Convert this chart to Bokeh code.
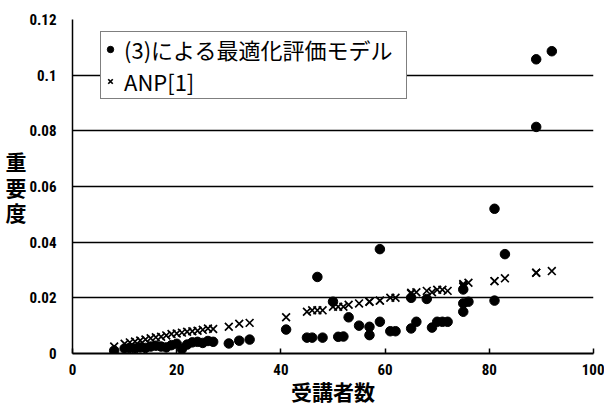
from bokeh.plotting import figure
from bokeh.models import Range1d, FixedTicker, Legend, LegendItem
from bokeh.embed import file_html
from bokeh.resources import INLINE

# 受講者数 (number of students) per course
students = [8, 10, 11, 12, 13, 14, 15, 16, 17, 18, 19, 20, 21, 22, 23, 24, 25, 26, 27,
            30, 32, 34, 41, 45, 46, 47, 48, 50, 51, 52, 53, 55, 57, 57, 59, 59, 61, 62,
            65, 65, 66, 68, 69, 70, 71, 72, 75, 75, 75, 76, 81, 81, 83, 89, 89, 92]
# (3)による最適化評価モデル
model = [0.001, 0.0018, 0.002, 0.0018, 0.0022, 0.002, 0.0025, 0.0028, 0.0025, 0.0022,
         0.003, 0.0035, 0.0016, 0.0032, 0.004, 0.0042, 0.0038, 0.0045, 0.0042,
         0.0036, 0.0046, 0.005, 0.0086, 0.0057, 0.0057, 0.0275, 0.0057, 0.0186, 0.006,
         0.0061, 0.013, 0.010, 0.0096, 0.0066, 0.0375, 0.0114, 0.008, 0.008,
         0.009, 0.020, 0.0114, 0.0196, 0.0093, 0.0114, 0.0114, 0.0114, 0.023, 0.018,
         0.015, 0.0186, 0.019, 0.052, 0.0357, 0.1057, 0.0814, 0.1086]
# ANP[1]
anp = [0.0025, 0.0035, 0.004, 0.0043, 0.0047, 0.005, 0.0055, 0.0058, 0.006, 0.0065,
       0.007, 0.0072, 0.0075, 0.0078, 0.008, 0.0082, 0.0085, 0.009, 0.0088,
       0.0096, 0.0107, 0.011, 0.013, 0.015, 0.0155, 0.0155, 0.0155, 0.0168, 0.0168,
       0.0168, 0.0175, 0.018, 0.0186, 0.0186, 0.019, 0.019, 0.020, 0.020,
       0.0218, 0.0215, 0.022, 0.0225, 0.022, 0.0229, 0.0229, 0.0225, 0.025, 0.024,
       0.0245, 0.0254, 0.026, 0.026, 0.027, 0.029, 0.029, 0.0296]

x_ticks = [0, 20, 40, 60, 80, 100]
y_ticks = [0, 0.02, 0.04, 0.06, 0.08, 0.1, 0.12]
y_tick_labels = ["0", "0.02", "0.04", "0.06", "0.08", "0.1", "0.12"]
series_names = ["(3)による最適化評価モデル", "ANP[1]"]
x_title = "受講者数"
y_title = "重\n要\n度"

TICK_FONT = "Roboto Condensed"
CJK_FONT = "Noto Sans CJK JP"

p = figure(width=604, height=408, output_backend="svg", toolbar_location=None,
           x_range=Range1d(0, 100), y_range=Range1d(0, 0.12),
           min_border_left=72, min_border_right=11, min_border_top=19, min_border_bottom=53)
p.outline_line_color = None
p.background_fill_color = "white"
p.border_fill_color = "white"

r_model = p.scatter(students, model, marker="circle", size=9.5, fill_color="black",
                    line_color="black")
r_anp = p.scatter(students, anp, marker="x", size=11, line_color="black", line_width=1.7)

p.xgrid.grid_line_color = None
p.ygrid.grid_line_color = "black"
p.ygrid.grid_line_width = 1.5
p.ygrid.ticker = FixedTicker(ticks=y_ticks)

p.xaxis.ticker = FixedTicker(ticks=x_ticks)
p.xaxis.minor_tick_line_color = None
p.xaxis.major_tick_in = 5
p.xaxis.major_tick_out = 0
p.xaxis.major_tick_line_width = 1.5
p.xaxis.axis_line_width = 2
p.xaxis.major_label_standoff = 10
p.xaxis.axis_label = x_title
p.xaxis.axis_label_standoff = -2
p.xaxis.axis_label_text_font = CJK_FONT
p.xaxis.axis_label_text_font_style = "bold"
p.xaxis.axis_label_text_font_size = "21px"

p.yaxis.ticker = FixedTicker(ticks=y_ticks)
p.yaxis.major_label_overrides = {t: l for t, l in zip(y_ticks, y_tick_labels)}
p.yaxis.minor_tick_line_color = None
p.yaxis.major_tick_line_color = None
p.yaxis.axis_line_width = 1.5
p.yaxis.major_label_standoff = 10
p.yaxis.axis_label = y_title
p.yaxis.axis_label_orientation = "horizontal"
p.yaxis.axis_label_standoff = 0
p.yaxis.axis_label_text_font = CJK_FONT
p.yaxis.axis_label_text_font_style = "bold"
p.yaxis.axis_label_text_font_size = "21px"
p.yaxis.axis_label_text_line_height = 0.85

for ax in (p.xaxis, p.yaxis):
    ax.major_label_text_font = TICK_FONT
    ax.major_label_text_font_style = "bold"
    ax.major_label_text_font_size = "15px"
    ax.major_label_text_color = "black"
    ax.axis_label_text_color = "black"
    ax.axis_line_color = "black"

legend = Legend(items=[LegendItem(label=series_names[0], renderers=[r_model]),
                       LegendItem(label=series_names[1], renderers=[r_anp])],
                location=(28, 254))
legend.border_line_color = "black"
legend.border_line_width = 1.2
legend.background_fill_alpha = 1
legend.label_text_font = CJK_FONT
legend.label_text_font_size = "22px"
legend.label_text_color = "black"
legend.glyph_width = 16
legend.glyph_height = 16
legend.label_standoff = 6
legend.label_width = 281
legend.padding = 1
legend.spacing = 0
legend.margin = 0
p.add_layout(legend, "center")

open("out.html", "w").write(file_html(p, INLINE))
